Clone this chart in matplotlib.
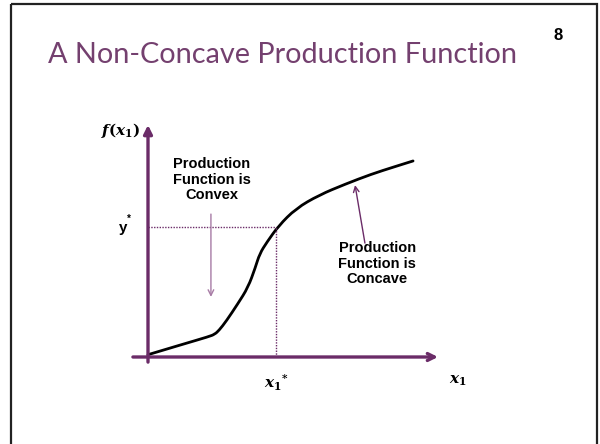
import matplotlib.pyplot as plt
import matplotlib.patches as patches
from matplotlib.path import Path

plt.rcParams['mathtext.fontset'] = 'custom'
plt.rcParams['mathtext.it'] = 'DejaVu Serif:italic:bold'
plt.rcParams['mathtext.rm'] = 'DejaVu Serif:bold'
plt.rcParams['mathtext.bf'] = 'DejaVu Serif:bold'

# --- data (axis units 0..10) ---
curve_x = [0.0, 1.2, 2.1, 2.3, 2.45, 2.7, 3.1, 3.45, 3.7, 3.85, 4.1,
           4.5, 5.1, 5.9, 6.8, 7.7, 8.5, 9.14]
curve_y = [0.1, 0.55, 0.88, 0.98, 1.15, 1.55, 2.3, 3.0, 3.85, 4.45, 4.95,
           5.65, 6.4, 6.98, 7.45, 7.88, 8.2, 8.45]
x_star = 4.41
y_star = 5.6
convex_arrow = (2.17, 6.16, 2.17, 2.59)   # x_tail, y_tail, x_head, y_head
concave_arrow = (7.48, 4.91, 7.14, 7.41)

purple = '#6b2c68'
title_purple = '#74406f'

fig = plt.figure(figsize=(6, 4.44), dpi=100)

# slide frame
frame = fig.add_axes([0, 0, 1, 1])
frame.set_xlim(0, 600)
frame.set_ylim(444, 0)
frame.axis('off')
frame.add_patch(patches.Rectangle((11, 4), 586, 460, fill=False,
                                  edgecolor='#222222', linewidth=1.6))
frame.text(48, 55, 'A Non-Concave Production Function', color=title_purple,
           fontsize=20.8, family='Lato', va='center', ha='left')
frame.text(558, 35, '8', fontsize=12, fontweight='bold',
           family='Liberation Sans', ha='center', va='center')

# chart area: origin at pixel (148, 357)
ax = fig.add_axes([148 / 600, 87 / 444, 290 / 600, 232 / 444])
ax.set_xlim(0, 10)
ax.set_ylim(0, 10)
ax.axis('off')

# axes with arrows
ax.annotate('', xy=(0, 10.0), xytext=(0, -0.22),
            arrowprops=dict(arrowstyle='-|>,head_length=0.5,head_width=0.25',
                            color=purple, lw=2.4, shrinkA=0, shrinkB=0),
            annotation_clip=False)
ax.annotate('', xy=(10.0, 0), xytext=(-0.52, 0),
            arrowprops=dict(arrowstyle='->,head_length=0.5,head_width=0.25',
                            color=purple, lw=2.4, shrinkA=0, shrinkB=0),
            annotation_clip=False)

# dotted guides
ax.plot([0, x_star], [y_star, y_star], color=purple, lw=1, ls=(0, (1, 1)))
ax.plot([x_star, x_star], [0, y_star], color=purple, lw=1, ls=(0, (1, 1)))

# production function, smoothed with quadratic bezier segments
pts = list(zip(curve_x, curve_y))
verts = [pts[0]]
codes = [Path.MOVETO]
for i in range(1, len(pts) - 1):
    mid = ((pts[i][0] + pts[i + 1][0]) / 2, (pts[i][1] + pts[i + 1][1]) / 2)
    verts += [pts[i], mid]
    codes += [Path.CURVE3, Path.CURVE3]
verts.append(pts[-1])
codes.append(Path.LINETO)
ax.add_patch(patches.PathPatch(Path(verts, codes), fill=False,
                               edgecolor='black', lw=2, capstyle='round',
                               joinstyle='round', clip_on=False))

# annotation arrows
ax.annotate('', xy=convex_arrow[2:], xytext=convex_arrow[:2],
            arrowprops=dict(arrowstyle='->,head_length=0.4,head_width=0.2',
                            color='#a77ba5', lw=1, shrinkA=0, shrinkB=0))
ax.annotate('', xy=concave_arrow[2:], xytext=concave_arrow[:2],
            arrowprops=dict(arrowstyle='->,head_length=0.4,head_width=0.2',
                            color=purple, lw=1, shrinkA=0, shrinkB=0))

# labels
ax.text(-0.95, 9.78, r'$f(x_1)$', fontsize=11, ha='center', va='center')
ax.text(-0.85, 5.55, 'y', fontsize=11, fontweight='bold',
        family='Liberation Sans', ha='center', va='center')
ax.text(-0.65, 5.95, '*', fontsize=7, fontweight='bold',
        family='Liberation Sans', ha='center', va='center')
ax.text(x_star, -1.12, r'$x_1{}^{*}$', fontsize=11, ha='center', va='center')
ax.text(10.69, -1.0, r'$x_1$', fontsize=11, ha='center', va='center')

ax.text(2.2, 7.65, 'Production\nFunction is\nConvex', fontsize=10.5,
        fontweight='bold', family='Liberation Sans', ha='center',
        va='center', linespacing=1.15)
ax.text(7.9, 4.02, 'Production\nFunction is\nConcave', fontsize=10.5,
        fontweight='bold', family='Liberation Sans', ha='center',
        va='center', linespacing=1.15)

fig.savefig('out.png', dpi=100)
